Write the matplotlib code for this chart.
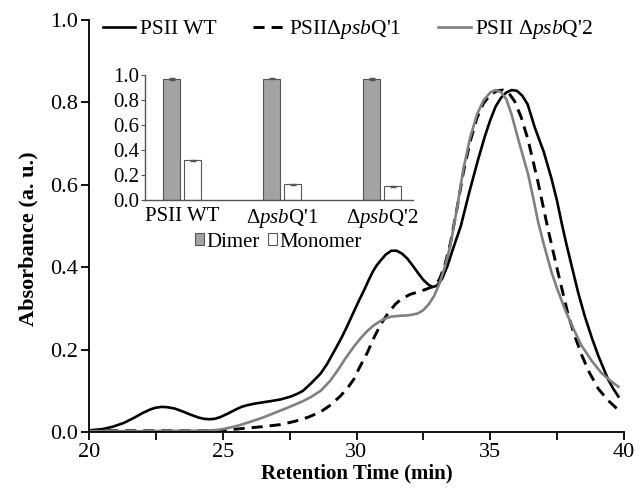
import numpy as np
import matplotlib.pyplot as plt
from matplotlib.ticker import MultipleLocator

plt.rcParams['font.family'] = ['Liberation Serif', 'DejaVu Serif']
plt.rcParams['mathtext.fontset'] = 'custom'
plt.rcParams['mathtext.rm'] = 'Liberation Serif'
plt.rcParams['mathtext.it'] = 'Liberation Serif:italic'

# chromatograms (retention time in min, absorbance)
wt_t = [20.0, 20.5, 20.9, 21.3, 21.7, 22.0, 22.3, 22.5, 22.72, 22.95, 23.2, 23.5,
        23.8, 24.1, 24.3, 24.5, 24.7, 24.9, 25.2, 25.5, 25.7, 25.91, 26.2, 26.5,
        26.8, 27.16, 27.54, 27.8, 28.0, 28.3, 28.66, 28.9, 29.2, 29.45, 29.66,
        29.9, 30.1, 30.29, 30.45, 30.6, 30.75, 30.91, 31.1, 31.3, 31.5, 31.7,
        31.9, 32.1, 32.3, 32.5, 32.7, 32.85, 33.0, 33.2, 33.4, 33.6, 33.9, 34.2,
        34.54, 34.8, 35.0, 35.2, 35.4, 35.6, 35.8, 36.0, 36.2, 36.4, 36.66, 37.0,
        37.29, 37.5, 37.66, 37.85, 38.04, 38.3, 38.53, 38.8, 39.04, 39.25, 39.41,
        39.6, 39.79]
wt_a = [0.004, 0.007, 0.013, 0.022, 0.035, 0.046, 0.055, 0.059, 0.061, 0.060, 0.057, 0.050,
        0.042, 0.035, 0.032, 0.031, 0.032, 0.036, 0.045, 0.055, 0.061, 0.065, 0.069, 0.072,
        0.075, 0.079, 0.086, 0.093, 0.100, 0.118, 0.142, 0.165, 0.200, 0.230, 0.258,
        0.292, 0.320, 0.345, 0.368, 0.388, 0.404, 0.417, 0.431, 0.440, 0.440, 0.433,
        0.421, 0.404, 0.386, 0.369, 0.357, 0.352, 0.355, 0.372, 0.403, 0.443, 0.500, 0.578,
        0.660, 0.718, 0.757, 0.790, 0.811, 0.824, 0.830, 0.828, 0.816, 0.795, 0.740, 0.680,
        0.615, 0.560, 0.510, 0.455, 0.404, 0.335, 0.282, 0.228, 0.185, 0.152, 0.127,
        0.105, 0.086]

q1_t = [20.0, 22.0, 24.0, 25.0, 25.66, 26.5, 27.16, 27.7, 28.2, 28.66, 29.0, 29.41,
        29.7, 29.9, 30.1, 30.4, 30.66, 30.91, 31.2, 31.45, 31.66, 32.0, 32.41, 32.7,
        32.9, 33.1, 33.3, 33.5, 33.75, 34.0, 34.25, 34.5, 34.75, 35.0, 35.25, 35.47,
        35.7, 35.91, 36.15, 36.41, 36.79, 37.16, 37.54, 37.91, 38.15, 38.41, 38.7,
        39.04, 39.4, 39.73]
q1_a = [0.003, 0.003, 0.003, 0.004, 0.008, 0.013, 0.018, 0.026, 0.036, 0.049, 0.064, 0.088,
        0.110, 0.128, 0.155, 0.192, 0.230, 0.262, 0.290, 0.310, 0.322, 0.334, 0.342, 0.349,
        0.354, 0.370, 0.405, 0.455, 0.540, 0.632, 0.705, 0.762, 0.798, 0.818, 0.828, 0.830,
        0.822, 0.803, 0.765, 0.710, 0.605, 0.492, 0.385, 0.285, 0.235, 0.188, 0.145,
        0.105, 0.077, 0.057]

q2_t = [20.0, 22.0, 24.0, 24.5, 24.8, 25.0, 25.3, 25.6, 26.0, 26.5, 27.0, 27.5,
        28.0, 28.3, 28.66, 29.0, 29.3, 29.6, 29.9, 30.16, 30.4, 30.65, 30.91, 31.1,
        31.3, 31.6, 31.9, 32.1, 32.3, 32.5, 32.7, 32.9, 33.1, 33.3, 33.5, 33.75,
        34.0, 34.25, 34.5, 34.75, 35.0, 35.2, 35.4, 35.6, 35.8, 36.04, 36.2, 36.41,
        36.6, 36.79, 37.0, 37.29, 37.5, 37.79, 38.1, 38.41, 38.8, 39.16, 39.5, 39.79]
q2_a = [0.002, 0.002, 0.003, 0.004, 0.005, 0.007, 0.011, 0.016, 0.024, 0.035, 0.048, 0.061,
        0.075, 0.085, 0.100, 0.123, 0.150, 0.180, 0.207, 0.228, 0.245, 0.259, 0.270, 0.276,
        0.280, 0.282, 0.283, 0.285, 0.288, 0.296, 0.310, 0.330, 0.360, 0.400, 0.450, 0.540,
        0.640, 0.715, 0.770, 0.805, 0.824, 0.830, 0.825, 0.808, 0.770, 0.712, 0.675, 0.627,
        0.570, 0.510, 0.456, 0.388, 0.348, 0.298, 0.252, 0.210, 0.172, 0.143, 0.124, 0.110]

# inset: dimer / monomer fractions
groups = ['PSII WT', "Δ$\\mathit{psb}$Q'1", "Δ$\\mathit{psb}$Q'2"]
dimer = [0.97, 0.97, 0.97]
dimer_err = [0.008, 0.005, 0.008]
monomer = [0.32, 0.125, 0.11]
monomer_err = [0.004, 0.003, 0.003]

fig = plt.figure(figsize=(6.44, 4.97), dpi=100)
ax = fig.add_axes([89/644, 1 - 432/497, (624 - 89)/644, (432 - 20)/497])

ax.plot(wt_t, wt_a, color='black', lw=1.9, label='PSII WT')
ax.plot(q1_t, q1_a, color='black', lw=2.1, ls=(0, (3.8, 2.4)),
        label="PSIIΔ$\\mathit{psb}$Q'1")
ax.plot(q2_t, q2_a, color='#808080', lw=1.9, label="PSII Δ$\\mathit{psb}$Q'2")

ax.set_xlim(20, 40)
ax.set_ylim(0, 1.0)
ax.xaxis.set_major_locator(MultipleLocator(5))
ax.xaxis.set_minor_locator(MultipleLocator(2.5))
ax.yaxis.set_major_locator(MultipleLocator(0.2))
ax.yaxis.set_major_formatter(plt.FormatStrFormatter('%.1f'))
for s in ['top', 'right']:
    ax.spines[s].set_visible(False)
for s in ['left', 'bottom']:
    ax.spines[s].set_linewidth(1.3)
ax.tick_params(which='both', direction='out', length=6, width=1.3, labelsize=16, pad=2)
ax.set_xlabel('Retention Time (min)', fontsize=15, fontweight='bold', labelpad=1)
ax.set_ylabel('Absorbance (a. u.)', fontsize=16, fontweight='bold')
ax.yaxis.set_label_coords(-0.095, 0.47)

ax.legend(loc='center', bbox_to_anchor=(0.484, 0.976), ncol=3, frameon=False,
          fontsize=15.5, handlelength=1.5, handletextpad=0.2, columnspacing=1.7,
          borderpad=0)

# inset bar chart
ins = fig.add_axes([145/644, 1 - 200/497, (413 - 145)/644, (200 - 75)/497])
x = np.arange(len(groups))
w = 0.175
ins.bar(x - 0.105, dimer, w, yerr=dimer_err, color='#a3a3a3', edgecolor='#555555',
        lw=0.8, error_kw=dict(lw=0.8, capsize=2, ecolor='#555555'), label='Dimer')
ins.bar(x + 0.105, monomer, w, yerr=monomer_err, color='white', edgecolor='#555555',
        lw=0.8, error_kw=dict(lw=0.8, capsize=2, ecolor='#555555'), label='Monomer')
ins.set_xlim(-0.37, 2.31)
ins.set_ylim(0, 1.0)
ins.set_xticks(x)
ins.set_xticklabels(groups)
ins.yaxis.set_major_locator(MultipleLocator(0.2))
ins.yaxis.set_major_formatter(plt.FormatStrFormatter('%.1f'))
for s in ['top', 'right']:
    ins.spines[s].set_visible(False)
for s in ['left', 'bottom']:
    ins.spines[s].set_color('#555555')
    ins.spines[s].set_linewidth(1.0)
ins.tick_params(axis='x', length=0, labelsize=15, pad=5)
ins.tick_params(axis='y', direction='out', length=3, width=0.8, color='#555555',
                labelsize=15, pad=1)
ins.legend(loc='center', bbox_to_anchor=(278/644, 1 - 242/497),
           bbox_transform=fig.transFigure, ncol=2, frameon=False, fontsize=15,
           handlelength=0.45, handleheight=0.45, handletextpad=0.1,
           columnspacing=0.4, borderpad=0)

fig.savefig('out.png', dpi=100)
